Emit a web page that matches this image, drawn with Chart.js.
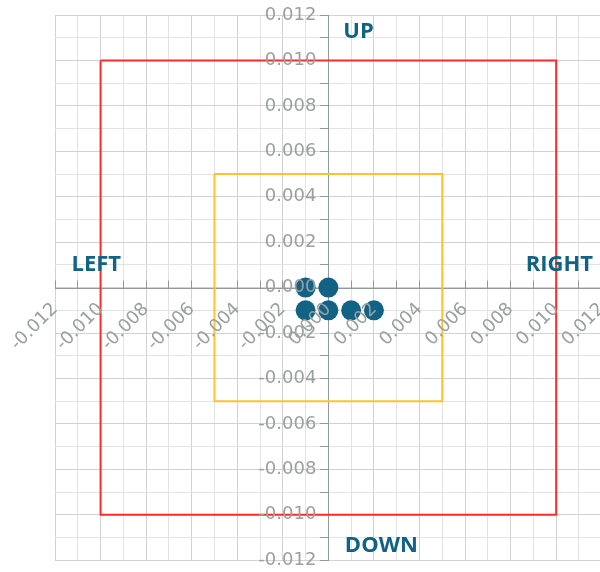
<!DOCTYPE html>
<html><head><meta charset="utf-8">
<script src="https://cdn.jsdelivr.net/npm/chart.js@4/dist/chart.umd.min.js"></script>
<style>
html,body{margin:0;padding:0;overflow:hidden;background:#fff;width:600px;height:572px}
#wrap{position:absolute;left:0;top:0;width:628px;height:575px}
</style></head><body>
<div id="wrap"><canvas id="c" width="628" height="575"></canvas></div>
<script>
// ---- data ----
const axisMin = -0.012, axisMax = 0.012, tickStep = 0.001, labelEvery = 2;
const pointX = [-0.001, 0, -0.001, 0, 0.001, 0.002];
const pointY = [0, 0, -0.001, -0.001, -0.001, -0.001];
const outerX = [-0.010, 0.010, 0.010, -0.010, -0.010];
const outerY = [0.010, 0.010, -0.010, -0.010, 0.010];
const innerX = [-0.005, 0.005, 0.005, -0.005, -0.005];
const innerY = [0.005, 0.005, -0.005, -0.005, 0.005];
const directionLabels = ['UP', 'DOWN', 'LEFT', 'RIGHT'];

const teal = '#116285';
const axisColor = '#8f9a9a';
const labelColor = '#9aa0a0';
const zip = (xs, ys) => xs.map((x, i) => ({x, y: ys[i]}));
const isMajor = v => Math.abs(Math.round(v / tickStep)) % labelEvery === 0;
const tickLabel = v => isMajor(v) ? (Math.abs(v) < 1e-9 ? 0 : v).toFixed(3) : '';
const gridColor = ctx => (ctx.tick && isMajor(ctx.tick.value)) ? '#d2d2d2' : '#e3e3e3';

const xTickMarks = {
  id: 'xTickMarks',
  beforeDatasetsDraw(chart) {
    const xs = chart.scales.x, ca = chart.chartArea, ctx = chart.ctx;
    const yb = Math.floor((ca.top + ca.bottom) / 2 + 0.5) + 0.5;
    ctx.save();
    ctx.strokeStyle = axisColor; ctx.lineWidth = 1;
    ctx.beginPath();
    xs.ticks.forEach((t, i) => {
      const px = Math.floor(xs.getPixelForTick(i)) + 0.5;
      ctx.moveTo(px, yb); ctx.lineTo(px, yb - 8);
    });
    ctx.stroke();
    ctx.restore();
  }
};

const directionText = {
  id: 'directionText',
  afterDraw(chart) {
    const ca = chart.chartArea, ctx = chart.ctx;
    const cx = (ca.left + ca.right) / 2, cy = (ca.top + ca.bottom) / 2;
    ctx.save();
    ctx.fillStyle = teal;
    ctx.font = 'bold 22px "Open Sans"';
    ctx.textBaseline = 'alphabetic';
    ctx.textAlign = 'left';
    ctx.fillText(directionLabels[0], cx + 15, ca.top + 23);
    ctx.fillText(directionLabels[1], cx + 16.5, ca.bottom - 8.5);
    ctx.fillText(directionLabels[2], ca.left + 16.5, cy - 16.5);
    ctx.textAlign = 'right';
    ctx.fillText(directionLabels[3], 593, cy - 16.5);
    ctx.restore();
  }
};

new Chart(document.getElementById('c'), {
  type: 'scatter',
  data: {
    datasets: [
      { data: zip(pointX, pointY), backgroundColor: teal, borderColor: teal,
        pointRadius: 10, pointHoverRadius: 10, borderWidth: 0 },
      { data: zip(innerX, innerY), showLine: true, fill: false, borderColor: '#ffc22e',
        borderWidth: 2, pointRadius: 0, tension: 0 },
      { data: zip(outerX, outerY), showLine: true, fill: false, borderColor: '#ff2a2a',
        borderWidth: 2, pointRadius: 0, tension: 0 }
    ]
  },
  options: {
    responsive: false,
    animation: false,
    events: [],
    layout: { padding: { left: 55, top: 15, right: 0, bottom: 0 } },
    plugins: { legend: { display: false }, tooltip: { enabled: false } },
    scales: {
      x: {
        type: 'linear', position: 'center', min: axisMin, max: axisMax,
        grid: { color: gridColor, drawTicks: false },
        border: { color: axisColor, width: 1 },
        ticks: { stepSize: tickStep, autoSkip: false, minRotation: 45, maxRotation: 45,
          padding: 11, z: 1, color: labelColor, font: { family: 'DejaVu Sans', size: 18 },
          callback: tickLabel }
      },
      y: {
        type: 'linear', position: 'center', min: axisMin, max: axisMax,
        grid: { color: gridColor, tickColor: axisColor, tickLength: 8 },
        border: { color: axisColor, width: 1 },
        ticks: { stepSize: tickStep, autoSkip: false, padding: 4, z: 1, color: labelColor,
          font: { family: 'DejaVu Sans', size: 18 }, callback: tickLabel }
      }
    }
  },
  plugins: [xTickMarks, directionText]
});
</script>
</body></html>
